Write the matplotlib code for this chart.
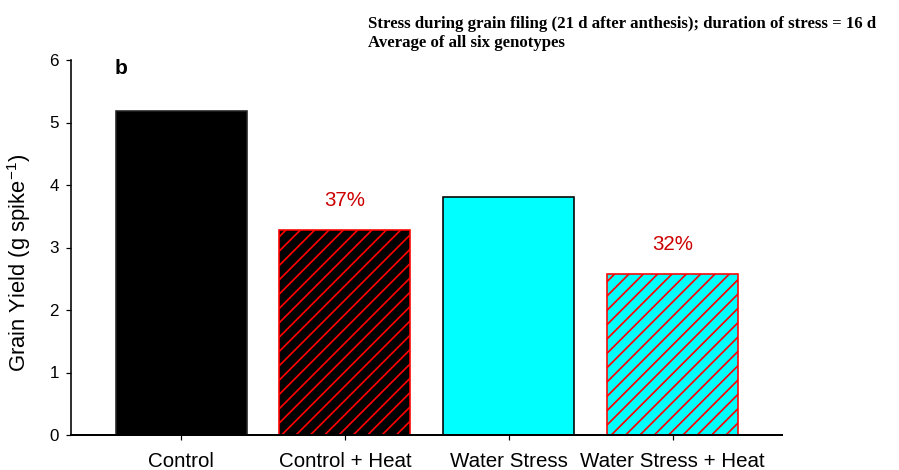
import matplotlib
matplotlib.use("Agg")
import matplotlib.pyplot as plt

# Data
categories = ["Control", "Control + Heat", "Water Stress", "Water Stress + Heat"]
grain_yield = [5.18, 3.28, 3.81, 2.58]
reduction_labels = ["", "37%", "", "32%"]

face_colors = ["black", "black", "#00FFFF", "#00FFFF"]
edge_colors = ["#222222", "red", "black", "red"]
hatches = ["", "//", "", "//"]

title_lines = [
    "Stress during grain filing (21 d after anthesis); duration of stress = 16 d",
    "Average of all six genotypes",
]

DPI = 86
PT = 72.0 / DPI  # pixel -> point

plt.rcParams["font.family"] = ["Liberation Sans", "DejaVu Sans"]
plt.rcParams["mathtext.fontset"] = "custom"
plt.rcParams["mathtext.rm"] = "Liberation Sans"
plt.rcParams["mathtext.it"] = "Liberation Sans:italic"
plt.rcParams["mathtext.bf"] = "Liberation Sans:bold"
plt.rcParams["hatch.linewidth"] = 1.7 * PT

fig = plt.figure(figsize=(899 / DPI, 470 / DPI), dpi=DPI)
ax = fig.add_axes([71 / 899, 1 - 435 / 470, (782 - 71) / 899, (435 - 60) / 470])

x = list(range(len(categories)))
bars = ax.bar(x, grain_yield, width=0.8, color=face_colors,
              edgecolor=edge_colors, linewidth=1.6 * PT, zorder=2)
for b, h in zip(bars, hatches):
    b.set_hatch(h)

for xi, val, lab in zip(x, grain_yield, reduction_labels):
    if lab:
        ax.text(xi, val + 0.47, lab, ha="center", va="center",
                color="#CC0000", fontsize=20.5 * PT)

ax.set_xlim(-0.672, 3.668)
ax.set_ylim(0, 6)
ax.set_yticks(range(0, 7))
ax.set_xticks(x)
ax.set_xticklabels(categories, fontsize=20.5 * PT)
ax.tick_params(axis="y", labelsize=17 * PT, direction="out", length=5 * PT,
               width=1.2 * PT, pad=7 * PT)
ax.tick_params(axis="x", direction="out", length=5 * PT, width=1.2 * PT,
               pad=12 * PT)

for s in ["top", "right"]:
    ax.spines[s].set_visible(False)
ax.spines["left"].set_linewidth(1.6 * PT)
ax.spines["bottom"].set_linewidth(2.0 * PT)

ax.set_ylabel(r"Grain Yield (g spike$^{\mathregular{-1}}$)", fontsize=22 * PT)
ax.yaxis.set_label_coords((33 - 71) / 711, (435 - 263) / 375)

fig.text(115 / 899, 1 - 68 / 470, "b", fontsize=21 * PT, fontweight="bold",
         va="center", ha="left")

title_font = dict(family=["Liberation Serif", "DejaVu Serif"],
                  fontweight="bold", fontsize=16.8 * PT, ha="left",
                  va="baseline")
fig.text(368 / 899, 1 - 28 / 470, title_lines[0], **title_font)
fig.text(368 / 899, 1 - 47 / 470, title_lines[1], **title_font)

fig.savefig("out.png", dpi=DPI)
